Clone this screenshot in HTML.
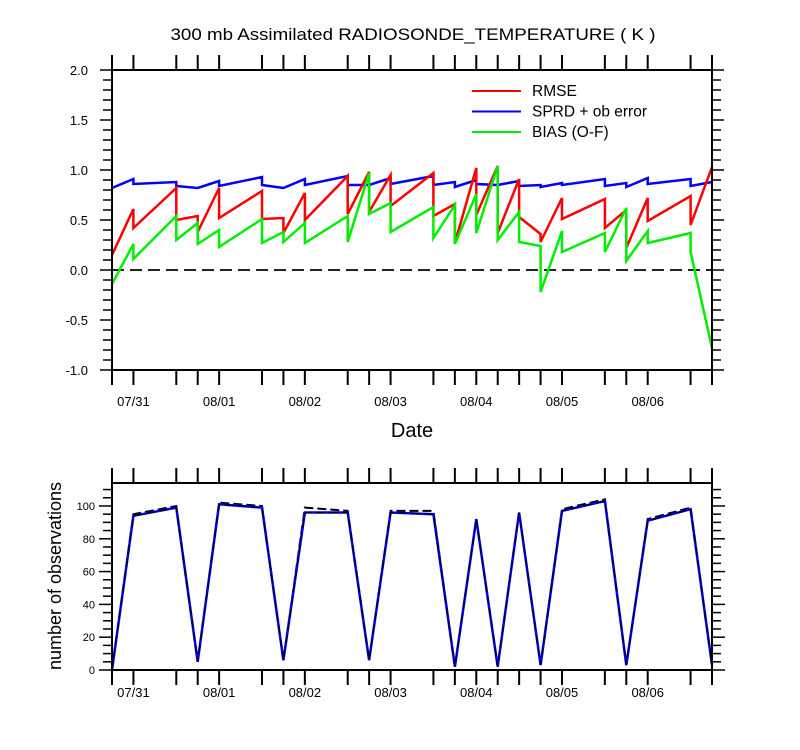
<!DOCTYPE html>
<html><head><meta charset="utf-8"><style>
html,body{margin:0;padding:0;background:#fff;}
svg{display:block;font-family:"Liberation Sans",sans-serif;}
</style></head><body>
<svg id="chart" width="800" height="750" viewBox="0 0 800 750"></svg>
<script>
// time index in 6-hour steps from 07/30 18Z
const dateLabels = ["07/31","08/01","08/02","08/03","08/04","08/05","08/06"];
const dateSteps = [1,5,9,13,17,21,25];
const tickSteps = [0,1,3,4,5,7,8,9,11,12,13,15,16,17,18,19,20,21,23,24,25,27,28];
// top chart series: repeated steps encode before/after values
const rmseT = [0,1,1,3,3,4,4,5,5,7,7,8,8,9,9,11,11,12,12,13,13,15,15,16,16,17,17,18,18,19,19,20,20,21,21,23,23,24,24,25,25,27,27,28];
const rmseV = [0.15,0.61,0.42,0.82,0.50,0.54,0.38,0.82,0.52,0.79,0.51,0.52,0.37,0.77,0.50,0.94,0.56,0.98,0.58,0.95,0.64,0.97,0.54,0.66,0.27,1.02,0.55,1.04,0.37,0.91,0.53,0.36,0.28,0.72,0.51,0.71,0.42,0.60,0.22,0.72,0.49,0.74,0.45,1.03];
const sprdT = [0,1,1,3,3,4,5,5,7,7,8,9,9,11,11,12,13,13,15,15,16,16,17,17,18,19,19,20,20,21,21,23,23,24,24,25,25,27,27,28];
const sprdV = [0.82,0.91,0.86,0.88,0.84,0.82,0.89,0.84,0.93,0.85,0.82,0.91,0.85,0.94,0.85,0.85,0.92,0.86,0.94,0.85,0.88,0.83,0.90,0.86,0.85,0.89,0.84,0.85,0.83,0.87,0.85,0.91,0.84,0.87,0.83,0.92,0.86,0.91,0.84,0.88];
const biasT = [0,1,1,3,3,4,4,5,5,7,7,8,8,9,9,11,11,12,12,13,13,15,15,16,16,17,17,18,18,19,19,20,20,21,21,23,23,24,24,25,25,27,27,28];
const biasV = [-0.14,0.26,0.11,0.54,0.30,0.47,0.26,0.40,0.23,0.51,0.27,0.38,0.28,0.47,0.27,0.54,0.28,0.97,0.56,0.67,0.38,0.63,0.32,0.65,0.26,0.76,0.37,1.04,0.30,0.58,0.28,0.24,-0.22,0.39,0.18,0.37,0.18,0.62,0.09,0.39,0.27,0.37,0.18,-0.78];
const topTicks = [-1.0,-0.5,0.0,0.5,1.0,1.5,2.0];
// bottom chart counts
const obsT = [0,1,3,4,5,7,8,9,11,12,13,15,16,17,18,19,20,21,23,24,25,27,28];
const usedV = [0,94,99,5,101,99,6,96,96,6,96,95,2,92,2,96,3,97,103,3,91,98,3];
const possV = [0,95,100,5,102,100,6,99,97,6,97,97,2,92,2,96,3,98,104,3,92,99,3];
const botTicks = [0,20,40,60,80,100];

const NS="http://www.w3.org/2000/svg";
const svg=document.getElementById('chart');
function el(tag,attrs,parent){const e=document.createElementNS(NS,tag);for(const k in attrs)e.setAttribute(k,attrs[k]);(parent||svg).appendChild(e);return e;}
const X0=112,X1=712,NSTEP=28;
const xs=t=>X0+(X1-X0)*t/NSTEP;
const TY0=70,TY1=370,TMIN=-1,TMAX=2;
const ty=v=>TY1-(v-TMIN)/(TMAX-TMIN)*(TY1-TY0);
const BY0=483,BY1=670,BMAX=114;
const by=v=>BY1-v/BMAX*(BY1-BY0);

let t=el('text',{x:413,y:40,'font-size':17,'text-anchor':'middle',fill:'#000',textLength:485,lengthAdjust:'spacingAndGlyphs'});


t.textContent='300 mb Assimilated RADIOSONDE_TEMPERATURE ( K )';

function xTicks(yTop,yBot,name){
  const g=el('g',{stroke:'#000','stroke-width':2});
  
  
  tickSteps.forEach(s=>{
    el('line',{x1:xs(s),x2:xs(s),y1:yTop-15,y2:yTop},g);
    el('line',{x1:xs(s),x2:xs(s),y1:yBot,y2:yBot+15},g);
  });
}
function xLabels(y,name){
  const g=el('g',{'font-size':13,'text-anchor':'middle',fill:'#000'});
  
  
  dateLabels.forEach((d,i)=>{const tx=el('text',{x:xs(dateSteps[i]),y:y},g);tx.textContent=d;});
}
function path(ts,vs,yf,attrs,name){
  let d='';ts.forEach((s,i)=>{d+=(i?'L':'M')+xs(s).toFixed(1)+','+yf(vs[i]).toFixed(1);});
  const p=el('path',Object.assign({d:d,fill:'none','stroke-linejoin':'miter'},attrs));
  
  
}

// ---- top chart ----
xTicks(TY0,TY1,'top-x-ticks');
const yt=el('g',{stroke:'#000','stroke-width':1.5});


for(let k=0;k<=30;k++){const v=TMIN+k*0.1;const y=ty(v);const major=k%5==0;
  el('line',{x1:X0-(major?12:9),x2:X0,y1:y,y2:y},yt);
  el('line',{x1:X1,x2:X1+(major?12:9),y1:y,y2:y},yt);}
const ytl=el('g',{'font-size':13,'text-anchor':'end',fill:'#000'});


topTicks.forEach(v=>{const tx=el('text',{x:88,y:ty(v)+5},ytl);tx.textContent=v.toFixed(1);});
let zl=el('line',{x1:X0,x2:X1,y1:ty(0),y2:ty(0),stroke:'#222','stroke-width':2,'stroke-dasharray':'12,6'});


path(sprdT,sprdV,ty,{stroke:'#0000ff','stroke-width':2.5},'sprd-line');
path(rmseT,rmseV,ty,{stroke:'#ff0000','stroke-width':2.5},'rmse-line');
path(biasT,biasV,ty,{stroke:'#00ee00','stroke-width':2.5},'bias-line');
let fr=el('rect',{x:X0,y:TY0,width:X1-X0,height:TY1-TY0,fill:'none',stroke:'#000','stroke-width':2});


xLabels(406,'top-x-tick-labels');
let dl=el('text',{x:412,y:437,'font-size':20,'text-anchor':'middle',fill:'#000'});


dl.textContent='Date';
// legend
const legend=[['RMSE','#ff0000'],['SPRD + ob error','#0000ff'],['BIAS (O-F)','#00ee00']];
legend.forEach((l,i)=>{const g=el('g',{});
  
  
  const y=91+i*20.5;
  el('line',{x1:472,x2:521,y1:y,y2:y,stroke:l[1],'stroke-width':2},g);
  const tx=el('text',{x:532,y:y+5,'font-size':15.5,fill:'#000'},g);tx.textContent=l[0];});

// ---- bottom chart ----
xTicks(BY0,BY1,'bottom-x-ticks');
const bt=el('g',{stroke:'#000','stroke-width':1.5});


for(let v=0;v<=110;v+=5){const y=by(v);const major=v%20==0;
  el('line',{x1:X0-(major?13:9),x2:X0,y1:y,y2:y},bt);
  el('line',{x1:X1,x2:X1+(major?13:9),y1:y,y2:y},bt);}
const btl=el('g',{'font-size':11,'text-anchor':'end',fill:'#000'});


botTicks.forEach(v=>{const tx=el('text',{x:95,y:by(v)+4},btl);tx.textContent=v;});
let yl=el('text',{x:0,y:0,'font-size':18,'text-anchor':'middle',fill:'#000',transform:'translate(61,576) rotate(-90)'});


yl.textContent='number of observations';
path(obsT,possV,by,{stroke:'#000','stroke-width':2,'stroke-dasharray':'9,4'},'possible-obs-line');
path(obsT,usedV,by,{stroke:'#0000ff','stroke-width':2.5},'assimilated-obs-line');
path(obsT,usedV,by,{stroke:'#000','stroke-width':1.2,'stroke-dasharray':'9,4'},'assimilated-obs-overlay');
let fr2=el('rect',{x:X0,y:BY0,width:X1-X0,height:BY1-BY0,fill:'none',stroke:'#000','stroke-width':2});


xLabels(697,'bottom-x-tick-labels');
</script>
</body></html>
